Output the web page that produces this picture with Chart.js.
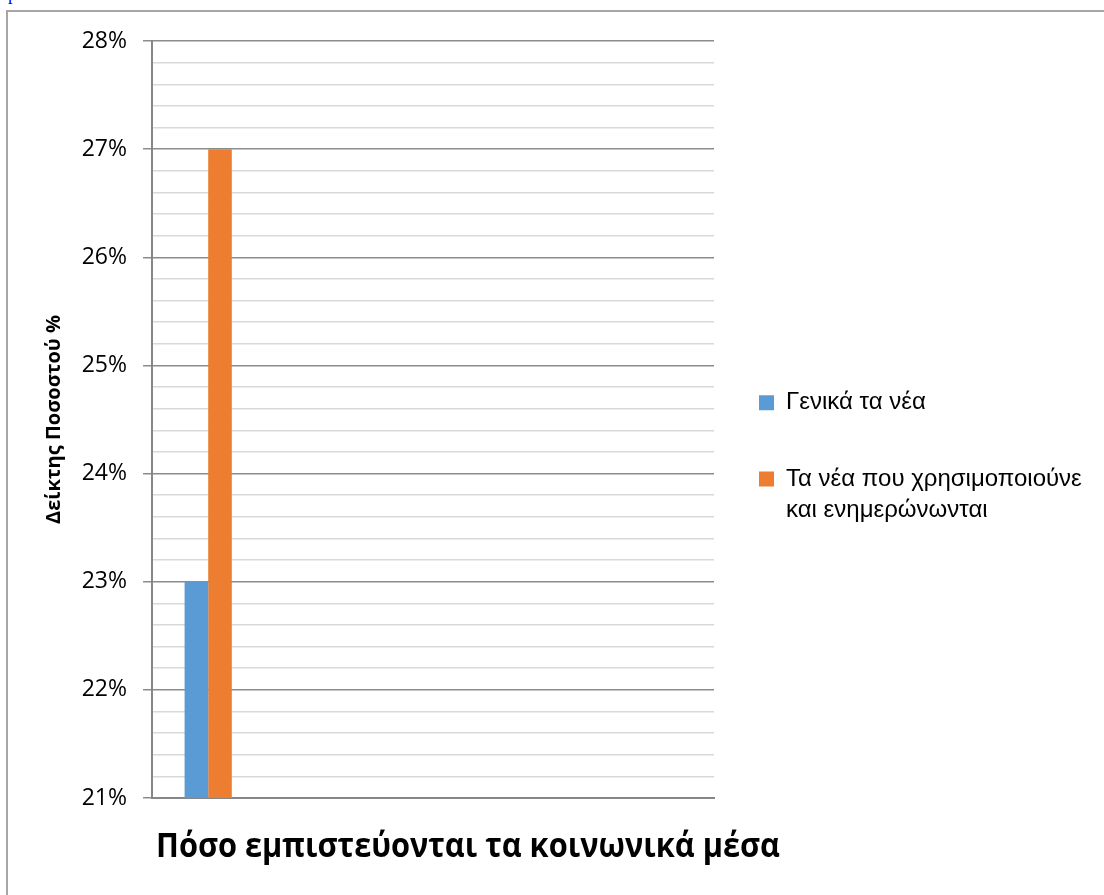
<!DOCTYPE html>
<html><head><meta charset="utf-8">
<script src="https://cdn.jsdelivr.net/npm/chart.js@4/dist/chart.umd.min.js"></script>
<style>
html,body{margin:0;padding:0;background:#fff;overflow:hidden;width:1104px;height:895px}
#frame{position:absolute;left:6px;top:10px;width:1200px;height:1000px;border:2px solid #a6a6a6;}
#cut{position:absolute;left:8px;top:-16px;color:#0000ee;font:18px "Liberation Serif",serif;line-height:normal}
canvas{position:absolute;left:0;top:0}
</style></head><body>
<div id="frame"></div>
<div id="cut">p</div>
<canvas id="c" width="1104" height="895"></canvas>
<script>
// ---- data ----
const categories = ['', '', '', '', ''];
const seriesNames = ['Γενικά τα νέα', 'Τα νέα που χρησιμοποιούνε και ενημερώνωνται'];
const legendLines = [['Γενικά τα νέα'], ['Τα νέα που χρησιμοποιούνε', 'και ενημερώνωνται']];
const generalNews = [23, null, null, null, null];
const usedNews = [27, null, null, null, null];
const yMin = 21, yMax = 28, yStep = 0.2;
const yTitle = 'Δείκτης Ποσοστού %';
const xTitle = 'Πόσο εμπιστεύονται τα κοινωνικά μέσα';

// ---- layout helpers ----
const legendFont = {family: '"Liberation Sans", Arial, sans-serif', size: 24, lineHeight: 1.3};
const legendBox = 15, legendPad = 45;
const plotRight = 714;
const mctx = document.createElement('canvas').getContext('2d');
mctx.font = legendFont.size + 'px ' + legendFont.family;
let colW = 0;
legendLines.forEach(lines => {
  const longest = lines.reduce((a, b) => a.length > b.length ? a : b);
  colW = Math.max(colW, legendBox + legendFont.size / 2 + mctx.measureText(longest).width);
});
const legendWidth = legendPad + colW + 10;
const padRight = Math.max(0, 1104 - plotRight - legendWidth);

const isMajor = v => Math.abs(v - Math.round(v)) < 1e-6;

// x-axis title drawn below the plot, starting at the plot's left edge (condensed like the original)
const xTitlePlugin = {
  id: 'xTitleFree',
  afterDraw(chart) {
    const {ctx, chartArea} = chart;
    ctx.save();
    ctx.font = 'bold 34px "Open Sans", sans-serif';
    ctx.fillStyle = '#000';
    ctx.textAlign = 'left';
    ctx.textBaseline = 'middle';
    ctx.fillText(xTitle, chartArea.left + 4, chartArea.bottom + 49, 624);
    ctx.restore();
  }
};

new Chart(document.getElementById('c'), {
  type: 'bar',
  data: {
    labels: categories,
    datasets: [
      {label: seriesNames[0], data: generalNews, backgroundColor: '#5B9BD5', borderWidth: 0, categoryPercentage: 0.42, barPercentage: 1},
      {label: seriesNames[1], data: usedNews, backgroundColor: '#ED7D31', borderWidth: 0, categoryPercentage: 0.42, barPercentage: 1}
    ]
  },
  plugins: [xTitlePlugin],
  options: {
    responsive: false,
    animation: false,
    devicePixelRatio: 1,
    events: [],
    layout: {padding: {left: 0, top: 41, right: padRight, bottom: 16}},
    plugins: {
      tooltip: {enabled: false},
      legend: {
        position: 'right',
        maxWidth: Math.ceil(legendWidth) + 2,
        labels: {
          boxWidth: legendBox, boxHeight: legendBox, padding: legendPad, color: '#000',
          font: legendFont,
          generateLabels(chart) {
            const items = Chart.defaults.plugins.legend.labels.generateLabels(chart);
            items.forEach((it, i) => { it.text = legendLines[i]; it.lineWidth = 0; });
            return items;
          }
        }
      }
    },
    scales: {
      x: {
        offset: true,
        afterFit(s) { s.height = 81; },
        grid: {display: false, drawTicks: false},
        ticks: {display: false},
        border: {display: true, color: '#868686', width: 2},
        title: {display: false}
      },
      y: {
        min: yMin, max: yMax,
        afterFit(s) { s.width = 152; },
        ticks: {stepSize: yStep, autoSkip: false, padding: 16, color: '#000',
          font: {family: '"Open Sans", sans-serif', size: 23},
          callback: v => isMajor(v) ? Math.round(v) + '%' : ''},
        grid: {
          color: c => isMajor(c.tick.value) ? '#8c8c8c' : '#d9d9d9',
          tickColor: c => isMajor(c.tick.value) ? '#8c8c8c' : 'rgba(0,0,0,0)',
          tickLength: 9, lineWidth: 1.5
        },
        border: {display: true, color: '#868686', width: 2},
        title: {display: true, text: yTitle, color: '#000',
          font: {family: '"Open Sans", sans-serif', size: 20, weight: 'bold'},
          padding: {top: 42, bottom: 0}}
      }
    }
  }
});
</script>
</body></html>
